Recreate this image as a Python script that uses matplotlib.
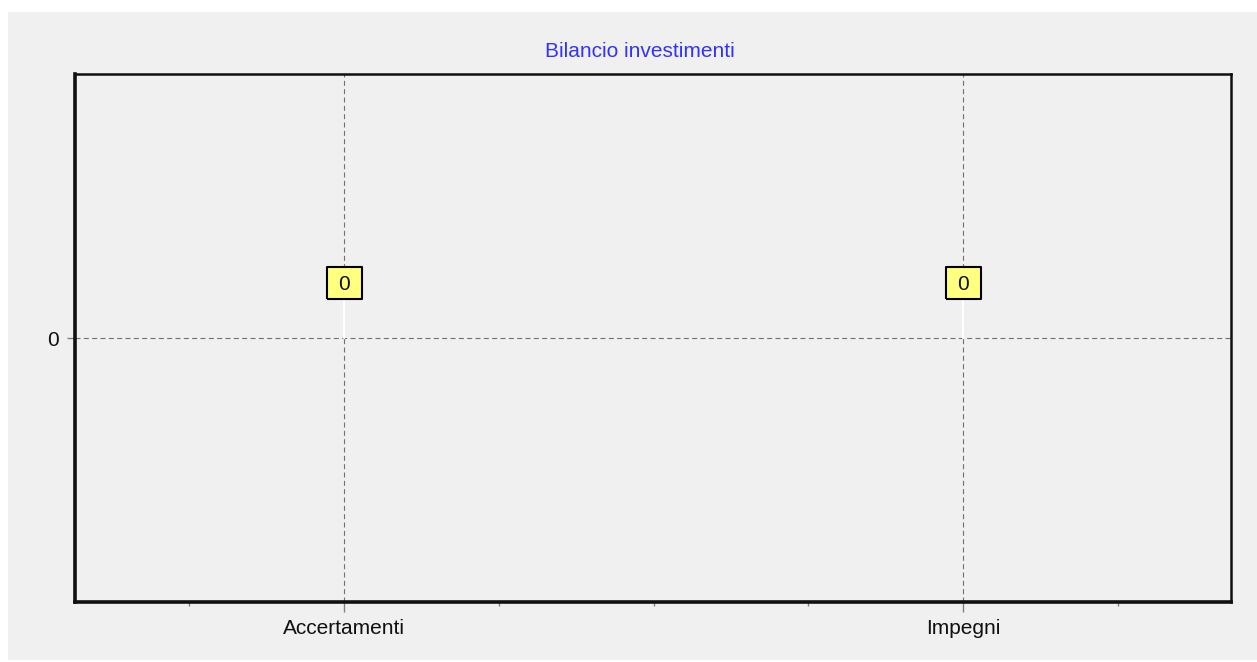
import matplotlib
matplotlib.use("Agg")
import matplotlib.pyplot as plt
from matplotlib.patches import Rectangle
from matplotlib.transforms import ScaledTranslation

categories = ["Accertamenti", "Impegni"]
values = [0, 0]
title = "Bilancio investimenti"

W, H = 1257, 662
DPI = 100
FS = 15
FONT = "Liberation Sans"
fig = plt.figure(figsize=(W / DPI, H / DPI), dpi=DPI)
fig.patch.set_facecolor("white")
# light gray panel
fig.patches.append(Rectangle((8 / W, 2 / H), (W - 8) / W, (H - 12 - 2) / H,
                             transform=fig.transFigure, facecolor="#F0F0F0",
                             edgecolor="none", zorder=-10))

left, right, top, bottom = 75, 1231, 74, 602
ax = fig.add_axes([left / W, 1 - bottom / H, (right - left) / W, (bottom - top) / H])
ax.set_zorder(1)
ax.set_facecolor("#F0F0F0")

x = list(range(len(categories)))
ax.set_xlim(-0.435, 1.433)
ax.set_ylim(-1, 1)

ax.set_xticks(x)
ax.set_xticklabels(categories, fontsize=FS, family=FONT, color="#101010")
ax.set_xticks([-0.25, 0.25, 0.5, 0.75, 1.25], minor=True)
ax.set_yticks([0])
ax.set_yticklabels(["0"], fontsize=FS, family=FONT, color="#101010")
ax.tick_params(axis="x", which="major", length=7, width=1, color="#808080", pad=5)
ax.tick_params(axis="x", which="minor", length=3, width=1, color="#808080")
ax.tick_params(axis="y", length=5.5, width=1, color="#808080", pad=6)

ax.grid(True, which="major", color="#707070", linestyle=(0, (4.5, 3)), linewidth=0.8)

for side in ["left", "bottom"]:
    ax.spines[side].set_linewidth(2.6)
for side in ["top", "right"]:
    ax.spines[side].set_linewidth(1.8)
for s in ax.spines.values():
    s.set_color("#101010")

ax.set_title(title, color="#3232FF", fontsize=FS, family=FONT, pad=12, x=0.4883)

# value labels: yellow box 55 px above the value, joined by a white leader line
box_off = ScaledTranslation(0, 55 / DPI, fig.dpi_scale_trans)
box_marker = [(-35, -32), (35, -32), (35, 32), (-35, 32), (-35, -32)]
for xi, v in zip(x, values):
    ax.annotate("", xy=(xi, v), xytext=(0, 40), textcoords="offset pixels",
                arrowprops=dict(arrowstyle="-", color="white", lw=1.6,
                                shrinkA=0, shrinkB=0), zorder=3)
    ax.plot([xi], [v], marker=box_marker, markersize=25.2, markerfacecolor="#FFFF80",
            markeredgecolor="black", markeredgewidth=1.5, linestyle="none",
            transform=ax.transData + box_off, zorder=4, clip_on=False)
    ax.annotate(str(v), (xi, v), xytext=(0, 55), textcoords="offset pixels",
                ha="center", va="center_baseline", fontsize=FS, family=FONT,
                color="#101010", zorder=5)

fig.savefig("out.png", dpi=DPI, facecolor=fig.get_facecolor())
